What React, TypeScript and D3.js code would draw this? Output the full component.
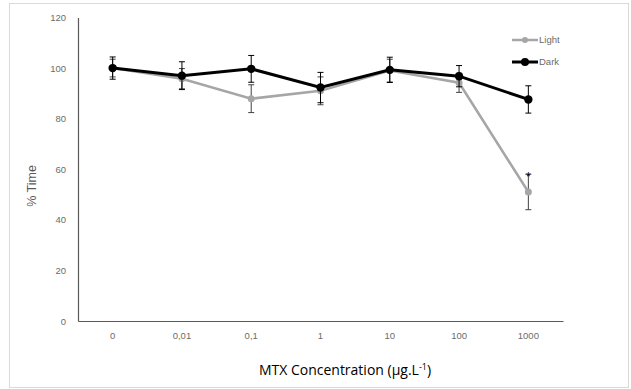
import React, { useEffect, useRef } from "react";
import * as d3 from "d3";

const concentrations = ["0", "0,01", "0,1", "1", "10", "100", "1000"];
const lightValues = [100, 95.8, 87.9, 91.0, 99.0, 94.2, 51.0];
const lightErrors = [3.5, 4.0, 5.5, 5.5, 4.5, 3.8, 7.0];
const darkValues = [100, 97.0, 99.7, 92.3, 99.3, 96.8, 87.6];
const darkErrors = [4.4, 5.5, 5.3, 6.0, 5.0, 4.2, 5.4];
const yTicks = [0, 20, 40, 60, 80, 100, 120];
const significant = ["1000"];

interface Point {
  label: string;
  value: number;
  err: number;
}

const toPoints = (vals: number[], errs: number[]): Point[] =>
  concentrations.map((c, i) => ({ label: c, value: vals[i], err: errs[i] }));

const ErrorChart: React.FC = () => {
  const svgRef = useRef<SVGSVGElement>(null);
  const width = 631;
  const height = 389;

  useEffect(() => {
    if (!svgRef.current) return;
    const svg = d3.select(svgRef.current);
    svg.selectAll("*").remove();

    const margin = { top: 17.5, right: 68, bottom: 68, left: 78 };
    const innerWidth = width - margin.left - margin.right;
    const innerHeight = height - margin.top - margin.bottom;

    // outer frame
    svg.append("rect")
      .attr("x", 9.5)
      .attr("y", 3.5)
      .attr("width", 619)
      .attr("height", 384)
      .attr("fill", "#ffffff")
      .attr("stroke", "#d9d9d9")
      .attr("stroke-width", 1);

    const g = svg.append("g")
      .attr("transform", `translate(${margin.left},${margin.top})`);

    const x = d3.scaleBand()
      .domain(concentrations)
      .range([0, innerWidth]);

    const y = d3.scaleLinear()
      .domain([0, 120])
      .range([innerHeight, 0]);

    const cx = (d: Point) => (x(d.label) ?? 0) + x.bandwidth() / 2;

    // axes
    const yAxis = g.append("g")
      .call(d3.axisLeft(y).tickValues(yTicks).tickSize(0).tickPadding(12));
    yAxis.select(".domain").attr("stroke", "#595959").attr("stroke-width", 1.2);
    yAxis.selectAll("text")
      .attr("fill", "#6b6b6b")
      .style("font-size", "9.5px")
      .style("font-family", "'Liberation Sans', sans-serif");

    const xAxis = g.append("g")
      .attr("transform", `translate(0,${innerHeight})`)
      .call(d3.axisBottom(x).tickSize(0).tickPadding(11));
    xAxis.select(".domain").attr("stroke", "#595959").attr("stroke-width", 1.2);
    xAxis.selectAll("text")
      .attr("fill", "#6b6b6b")
      .style("font-size", "9.5px")
      .style("font-family", "'Liberation Sans', sans-serif");

    const line = d3.line<Point>()
      .x(d => cx(d))
      .y(d => y(d.value));

    const drawSeries = (
      pts: Point[],
      color: string,
      errColor: string,
      lineWidth: number,
      r: number
    ) => {
      const s = g.append("g");
      s.append("path")
        .datum(pts)
        .attr("fill", "none")
        .attr("stroke", color)
        .attr("stroke-width", lineWidth)
        .attr("d", line);

      const eb = s.selectAll("g.err")
        .data(pts)
        .join("g")
        .attr("class", "err")
        .attr("stroke", errColor)
        .attr("stroke-width", 1);
      eb.append("line")
        .attr("x1", d => cx(d)).attr("x2", d => cx(d))
        .attr("y1", d => y(d.value + d.err)).attr("y2", d => y(d.value - d.err));
      eb.append("line")
        .attr("x1", d => cx(d) - 3).attr("x2", d => cx(d) + 3)
        .attr("y1", d => y(d.value + d.err)).attr("y2", d => y(d.value + d.err));
      eb.append("line")
        .attr("x1", d => cx(d) - 3).attr("x2", d => cx(d) + 3)
        .attr("y1", d => y(d.value - d.err)).attr("y2", d => y(d.value - d.err));

      s.selectAll("circle")
        .data(pts)
        .join("circle")
        .attr("cx", d => cx(d))
        .attr("cy", d => y(d.value))
        .attr("r", r)
        .attr("fill", color);
    };

    const lightPts = toPoints(lightValues, lightErrors);
    const darkPts = toPoints(darkValues, darkErrors);

    drawSeries(lightPts, "#a6a6a6", "#404040", 2.5, 3.5);
    drawSeries(darkPts, "#000000", "#000000", 3, 4.2);

    // significance marker
    g.selectAll("text.sig")
      .data(lightPts.filter(d => significant.includes(d.label)))
      .join("text")
      .attr("class", "sig")
      .attr("x", d => cx(d))
      .attr("y", d => y(d.value + d.err) + 7)
      .attr("text-anchor", "middle")
      .attr("fill", "#000")
      .style("font-size", "12px")
      .style("font-family", "'Liberation Sans', sans-serif")
      .text("*");

    // legend
    const legend = svg.append("g").attr("transform", "translate(512,40)");
    const items = [
      { name: "Light", color: "#a6a6a6", w: 2.5, r: 3 },
      { name: "Dark", color: "#000000", w: 3, r: 4 },
    ];
    items.forEach((it, i) => {
      const lg = legend.append("g").attr("transform", `translate(0,${i * 22})`);
      lg.append("line")
        .attr("x1", 0).attr("x2", 26)
        .attr("stroke", it.color).attr("stroke-width", it.w);
      lg.append("circle").attr("cx", 13).attr("r", it.r).attr("fill", it.color);
      lg.append("text")
        .attr("x", 27)
        .attr("dy", "0.35em")
        .attr("fill", "#6b6b6b")
        .style("font-size", "9.5px")
        .style("font-family", "'Liberation Sans', sans-serif")
        .text(it.name);
    });

    // axis titles
    const xt = svg.append("text")
      .attr("x", 345)
      .attr("y", 375)
      .attr("text-anchor", "middle")
      .attr("fill", "#000")
      .style("font-size", "14px")
      .style("font-family", "'Open Sans', sans-serif");
    xt.append("tspan").text("MTX Concentration (μg.L");
    xt.append("tspan").attr("dy", -5).style("font-size", "9px").text("-1");
    xt.append("tspan").attr("dy", 5).text(")");

    svg.append("text")
      .attr("transform", `translate(36,${186}) rotate(-90)`)
      .attr("text-anchor", "middle")
      .attr("fill", "#595959")
      .style("font-size", "12.5px")
      .style("font-family", "'Liberation Sans', sans-serif")
      .text("% Time");
  }, []);

  return (
    <svg
      ref={svgRef}
      width={width}
      height={height}
      style={{ position: "absolute", left: 0, top: 0, background: "#ffffff" }}
    />
  );
};

export default function App() {
  return <ErrorChart />;
}
